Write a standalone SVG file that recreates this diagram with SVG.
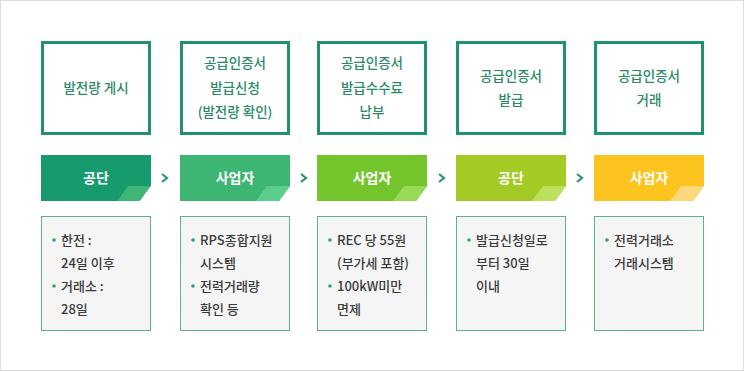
<svg xmlns="http://www.w3.org/2000/svg" width="745" height="372" viewBox="0 0 745 372">
<style>
.frame{fill:#fff;stroke:#dcdcdc;stroke-width:1}
.top{fill:#fff;stroke:#1e9270;stroke-width:3}
.tt{font-family:"Noto Sans CJK KR","Noto Sans",sans-serif;font-size:13.5px;font-weight:500;fill:#2a8a66;text-anchor:middle}
.bt{font-family:"Noto Sans CJK KR","Noto Sans",sans-serif;font-size:14px;font-weight:bold;fill:#fff;text-anchor:middle}
.info{fill:#f5f5f5;stroke:#5cb386;stroke-width:1}
.it{font-family:"Noto Sans CJK KR","Noto Sans",sans-serif;font-size:13px;font-weight:500;fill:#3a3a3a}
.dot{fill:#2fa36b}
.chev{fill:none;stroke:#2a9470;stroke-width:2.2}
</style>
<rect class="frame" x="0.5" y="0.5" width="743" height="370"/>

<g id="connectors">
<polyline class="chev" points="162,174 167,178 162,182"/>
<polyline class="chev" points="301,174 306,178 301,182"/>
<polyline class="chev" points="439,174 444,178 439,182"/>
<polyline class="chev" points="577,174 582,178 577,182"/>
</g>

<g id="step1">
<rect class="top" x="42.5" y="42.5" width="107" height="91"/>
<text class="tt" x="96" y="93">발전량 게시</text>
<polygon points="41,155 151,155 151,186 136,201 41,201" fill="#179a6d"/>
<polygon points="128,186 151,186 140,201 117,201" fill="#3fb675"/>
<polygon points="151,186 151,201 140,201" fill="#fff"/>
<text class="bt" x="96" y="183">공단</text>
<rect class="info" x="41.5" y="216.5" width="109" height="114"/>
<circle class="dot" cx="54" cy="240" r="1.8"/>
<text class="it" x="61" y="245">한전 :</text>
<text class="it" x="61" y="268">24일 이후</text>
<circle class="dot" cx="54" cy="286" r="1.8"/>
<text class="it" x="61" y="291">거래소 :</text>
<text class="it" x="61" y="314">28일</text>
</g>

<g id="step2">
<rect class="top" x="181.5" y="42.5" width="107" height="91"/>
<text class="tt" x="235" y="68">공급인증서</text>
<text class="tt" x="235" y="93">발급신청</text>
<text class="tt" x="235" y="117">(발전량 확인)</text>
<polygon points="180,155 290,155 290,186 279,201 180,201" fill="#3db573"/>
<polygon points="267,186 290,186 279,201 256,201" fill="#5ccd8c"/>
<text class="bt" x="235" y="183">사업자</text>
<rect class="info" x="180.5" y="216.5" width="109" height="114"/>
<circle class="dot" cx="193" cy="240" r="1.8"/>
<text class="it" x="200" y="245">RPS종합지원</text>
<text class="it" x="200" y="268">시스템</text>
<circle class="dot" cx="193" cy="286" r="1.8"/>
<text class="it" x="200" y="291">전력거래량</text>
<text class="it" x="200" y="314">확인 등</text>
</g>

<g id="step3">
<rect class="top" x="318.5" y="42.5" width="107" height="91"/>
<text class="tt" x="372" y="68">공급인증서</text>
<text class="tt" x="372" y="93">발급수수료</text>
<text class="tt" x="372" y="117">납부</text>
<polygon points="317,155 427,155 427,186 416,201 317,201" fill="#74c52c"/>
<polygon points="404,186 427,186 416,201 393,201" fill="#98d95a"/>
<text class="bt" x="372" y="183">사업자</text>
<rect class="info" x="317.5" y="216.5" width="109" height="114"/>
<circle class="dot" cx="330" cy="240" r="1.8"/>
<text class="it" x="337" y="245">REC 당 55원</text>
<text class="it" x="337" y="268">(부가세 포함)</text>
<circle class="dot" cx="330" cy="286" r="1.8"/>
<text class="it" x="337" y="291">100kW미만</text>
<text class="it" x="337" y="314">면제</text>
</g>

<g id="step4">
<rect class="top" x="457.5" y="42.5" width="107" height="91"/>
<text class="tt" x="511" y="81">공급인증서</text>
<text class="tt" x="511" y="105">발급</text>
<polygon points="456,155 566,155 566,186 555,201 456,201" fill="#a4cb25"/>
<polygon points="543,186 566,186 555,201 532,201" fill="#bde05c"/>
<text class="bt" x="511" y="183">공단</text>
<rect class="info" x="456.5" y="216.5" width="109" height="114"/>
<circle class="dot" cx="469" cy="240" r="1.8"/>
<text class="it" x="476" y="245">발급신청일로</text>
<text class="it" x="476" y="268">부터 30일</text>
<text class="it" x="476" y="291">이내</text>
</g>

<g id="step5">
<rect class="top" x="595.5" y="42.5" width="107" height="91"/>
<text class="tt" x="649" y="81">공급인증서</text>
<text class="tt" x="649" y="105">거래</text>
<polygon points="594,155 704,155 704,186 693,201 594,201" fill="#fdc41f"/>
<polygon points="681,186 704,186 693,201 670,201" fill="#fbd87c"/>
<text class="bt" x="649" y="183">사업자</text>
<rect class="info" x="594.5" y="216.5" width="109" height="114"/>
<circle class="dot" cx="607" cy="240" r="1.8"/>
<text class="it" x="614" y="245">전력거래소</text>
<text class="it" x="614" y="268">거래시스템</text>
</g>
</svg>
